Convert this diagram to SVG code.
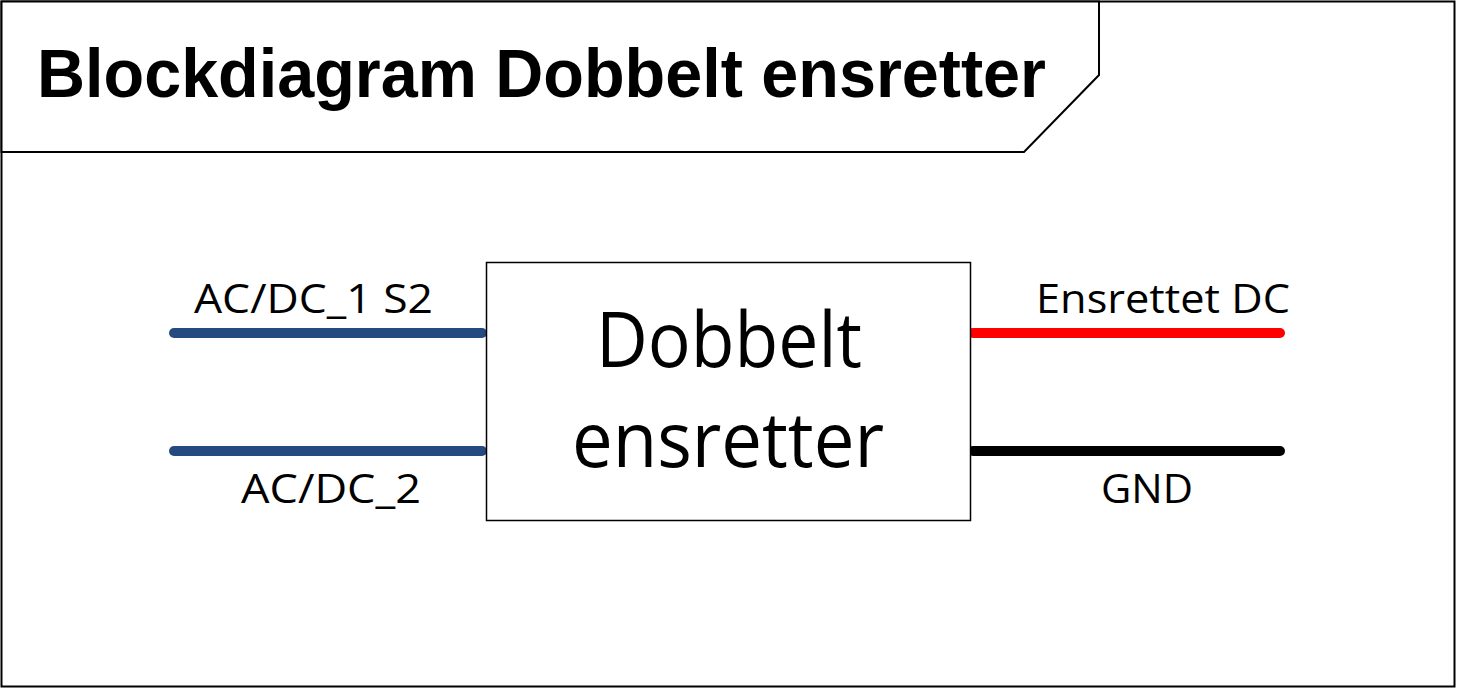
<svg xmlns="http://www.w3.org/2000/svg" width="1457" height="689" viewBox="0 0 1457 689">
<style>
.frame{fill:#fff;stroke:#000;stroke-width:2}
.lbl{font-family:"Open Sans","Liberation Sans",sans-serif;font-size:40px;fill:#000}
.big{font-family:"Open Sans","Liberation Sans",sans-serif;font-size:76px;fill:#000;text-anchor:middle}
.wire{stroke-width:10;stroke-linecap:round;fill:none}
</style>
<rect x="0" y="0" width="1457" height="689" fill="#fff"/>
<rect class="frame" x="1.5" y="1.5" width="1453" height="685"/>
<g id="title">
<polygon class="frame" points="1.5,1.5 1099,1.5 1099,75 1024,152 1.5,152"/>
<text x="37" y="97" font-family="'Liberation Sans',Arial,sans-serif" font-weight="bold" font-size="68" textLength="1009" lengthAdjust="spacingAndGlyphs">Blockdiagram Dobbelt ensretter</text>
</g>
<g id="connectors">
<line class="wire" x1="174" y1="333" x2="482" y2="333" stroke="#244A7F"/>
<line class="wire" x1="174" y1="451" x2="482" y2="451" stroke="#244A7F"/>
<line class="wire" x1="973" y1="333" x2="1280" y2="333" stroke="#FF0000"/>
<line class="wire" x1="973" y1="451" x2="1280" y2="451" stroke="#000"/>
</g>
<g id="block">
<rect x="486.5" y="262.5" width="484" height="258" fill="#fff" stroke="#000" stroke-width="1.5"/>
<text class="big" x="729" y="367" textLength="266" lengthAdjust="spacingAndGlyphs">Dobbelt</text>
<text class="big" x="728" y="467" textLength="312" lengthAdjust="spacingAndGlyphs">ensretter</text>
</g>
<g id="labels">
<text class="lbl" x="194" y="313" textLength="239" lengthAdjust="spacingAndGlyphs">AC/DC_1 S2</text>
<text class="lbl" x="241" y="503" textLength="180" lengthAdjust="spacingAndGlyphs">AC/DC_2</text>
<text class="lbl" x="1036" y="313" textLength="254" lengthAdjust="spacingAndGlyphs">Ensrettet DC</text>
<text class="lbl" x="1101" y="503" textLength="92" lengthAdjust="spacingAndGlyphs">GND</text>
</g>
</svg>
